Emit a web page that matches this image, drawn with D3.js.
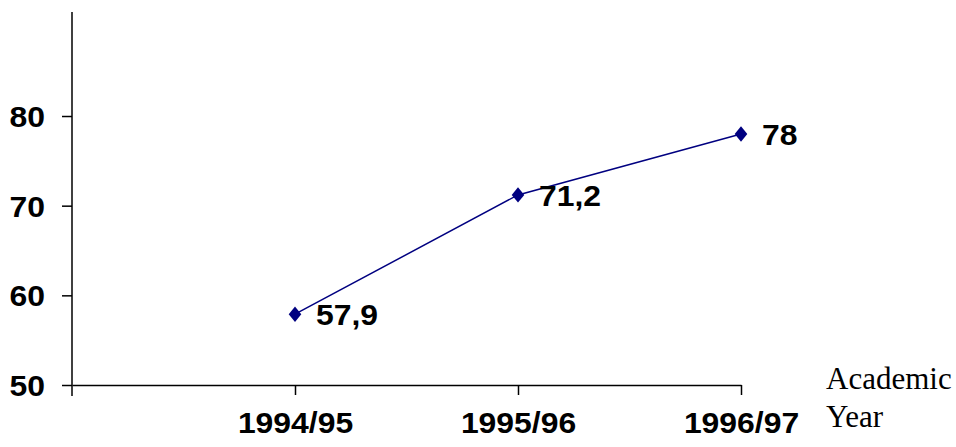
<!DOCTYPE html>
<html>
<head>
<meta charset="utf-8">
<script src="https://cdn.jsdelivr.net/npm/d3@7"></script>
<style>
  body { margin: 0; background: #fff; }
  svg { display: block; }
</style>
</head>
<body>
<svg id="chart"></svg>
<script>
// data
const years = ["1994/95", "1995/96", "1996/97"];
const values = [57.9, 71.2, 78];
const valueLabels = ["57,9", "71,2", "78"];
const yTicks = [50, 60, 70, 80];

const width = 956, height = 447;
const svg = d3.select("#chart").attr("width", width).attr("height", height);

const lineColor = "#000080";
const boldFont = "'Liberation Sans', Arial, sans-serif";
const stretch = 1.1; // reference lettering is a bit wider than Arial

// x is positional: axis origin at 0, categories at 1..3
const x = d3.scaleLinear().domain([0, years.length]).range([72, 741]);
const y = d3.scaleLinear().domain([50, 91.6]).range([385, 12]);

// y axis
const yAxis = svg.append("g")
  .attr("class", "axis y")
  .attr("transform", `translate(${x(0)},0)`)
  .call(d3.axisLeft(y).tickValues(yTicks).tickSize(10).tickPadding(0).tickSizeOuter(0));
yAxis.select(".domain").remove();
yAxis.append("line")
  .attr("x1", 0).attr("x2", 0)
  .attr("y1", y.range()[1]).attr("y2", 396)
  .attr("stroke", "#000").attr("stroke-width", 1.5);
yAxis.selectAll(".tick line").attr("stroke", "#000").attr("stroke-width", 1.5);
yAxis.selectAll(".tick text")
  .attr("x", 0)
  .attr("transform", `translate(-27,0) scale(${stretch},1)`)
  .attr("font-family", boldFont)
  .attr("font-weight", "bold")
  .attr("font-size", 29)
  .attr("fill", "#000")
  .attr("dy", "0.36em");

// x axis
const xAxis = svg.append("g")
  .attr("class", "axis x")
  .attr("transform", `translate(0,${y(50)})`)
  .call(d3.axisBottom(x)
    .tickValues(d3.range(1, years.length + 1))
    .tickFormat(i => years[i - 1])
    .tickSize(10).tickPadding(38).tickSizeOuter(0));
xAxis.select(".domain").attr("stroke", "#000").attr("stroke-width", 1.5);
xAxis.selectAll(".tick line").attr("stroke", "#000").attr("stroke-width", 1.5);
xAxis.selectAll(".tick text")
  .attr("transform", `scale(${stretch},1)`)
  .attr("font-family", boldFont)
  .attr("font-weight", "bold")
  .attr("font-size", 29)
  .attr("fill", "#000")
  .attr("dy", 0);

// axis title
svg.append("text")
  .attr("x", 826).attr("y", 389)
  .attr("font-family", "'Liberation Serif', 'Times New Roman', serif")
  .attr("font-size", 31)
  .attr("fill", "#000")
  .selectAll("tspan")
  .data(["Academic", "Year"])
  .join("tspan")
  .attr("x", 826)
  .attr("dy", (d, i) => i === 0 ? 0 : 38)
  .text(d => d);

// series
const pts = values.map((v, i) => ({ x: i + 1, v: v, label: valueLabels[i] }));

const line = d3.line()
  .x(d => x(d.x))
  .y(d => y(d.v));

svg.append("path")
  .datum(pts)
  .attr("fill", "none")
  .attr("stroke", lineColor)
  .attr("stroke-width", 1.5)
  .attr("d", line);

const sym = d3.symbol().type(d3.symbolDiamond).size(95);
svg.selectAll("path.marker")
  .data(pts)
  .join("path")
  .attr("class", "marker")
  .attr("fill", lineColor)
  .attr("transform", d => `translate(${x(d.x)},${y(d.v)}) scale(1.2,0.85)`)
  .attr("d", sym);

svg.selectAll("text.val")
  .data(pts)
  .join("text")
  .attr("class", "val")
  .attr("transform", d => `translate(${x(d.x) + 21},${y(d.v) + 11}) scale(${stretch},1)`)
  .attr("font-family", boldFont)
  .attr("font-weight", "bold")
  .attr("font-size", 29)
  .attr("fill", "#000")
  .text(d => d.label);
</script>
</body>
</html>
